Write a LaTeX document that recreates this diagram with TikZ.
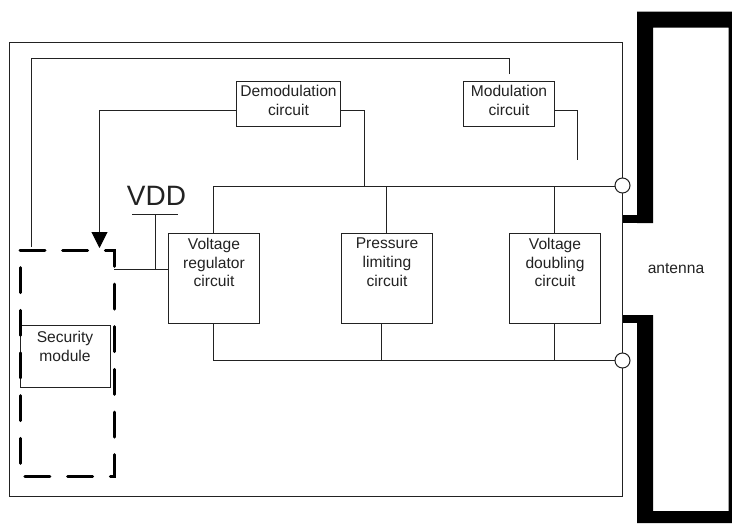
\documentclass[tikz,border=0pt]{standalone}
\usepackage{fontspec}
\setmainfont{Liberation Sans}
\usetikzlibrary{arrows.meta,positioning,calc}
\definecolor{ink}{HTML}{222222}
\tikzset{
  wire/.style={draw=ink,line width=1pt},
  boxshape/.style={draw=ink,line width=1pt,inner sep=0pt,outer sep=0pt,fill=white},
  lbl/.style={font=\fontsize{15.6}{18.6}\selectfont,align=center,text=ink,inner sep=0pt},
  terminal/.style={circle,draw=ink,line width=1pt,fill=white,minimum size=15pt,inner sep=0pt,outer sep=0pt},
  secure/.style={draw=black,line width=3pt,line cap=round,dash pattern=on 25pt off 17.67pt},
  antfill/.style={fill=black,draw=none}
}
\begin{document}
\begin{tikzpicture}[x=1pt,y=-1pt]
\useasboundingbox (0,0) rectangle (732,523);
\fill[white] (0,0) rectangle (732,523);
% board
\node[boxshape,fill=none,minimum width=613pt,minimum height=454pt] (board) at (316,269.5) {};
% antenna
\fill[antfill] (637,11.5)--(732,11.5)--(732,523)--(637,523)--(637,315)--(653,315)--(653,511)--(728.5,511)--(728.5,27.5)--(653,27.5)--(653,223)--(637,223)--cycle;
\fill[antfill] (board.east |- 0,215) rectangle (637,223);
\fill[antfill] (board.east |- 0,315) rectangle (637,322.7);
\node[lbl] (ant) at (676,269) {antenna};
% boxes
\node[boxshape,minimum width=104pt,minimum height=45pt] (demod) at (288.5,104) {};
\node[lbl,anchor=north] (demodt) at (288.5,85) {Demodulation\\circuit};
\node[boxshape,minimum width=91pt,minimum height=45pt] (mod) at (509,104) {};
\node[lbl,anchor=north] (modt) at (509,85) {Modulation\\circuit};
\node[boxshape,minimum width=91pt,minimum height=90pt] (vr) at (214,278.5) {};
\node[lbl,anchor=north] (vrt) at (214,238) {Voltage\\regulator\\circuit};
\node[boxshape,minimum width=91pt,minimum height=90pt] (pl) at (387,278.5) {};
\node[lbl,anchor=north] (plt) at (387,238) {Pressure\\limiting\\circuit};
\node[boxshape,minimum width=91pt,minimum height=90pt] (vd) at (555,278.5) {};
\node[lbl,anchor=north] (vdt) at (555,238) {Voltage\\doubling\\circuit};
\node[boxshape,minimum width=90pt,minimum height=62pt] (sec) at (65.5,356.5) {};
\node[lbl,anchor=north] (sect) at (65,331) {Security\\module};
% dashed security outline
\node[minimum width=94pt,minimum height=226pt,inner sep=0pt,outer sep=0pt] (dash) at (67,363) {};
\draw[secure] (dash.north west) -- (dash.north east) -- (dash.south east) -- (dash.south west) -- cycle;
% free ends and junctions
\coordinate (modup) at (509.5,74);
\coordinate (secup) at (31.5,247);
\coordinate (arrowend) at (99.5,248);
\coordinate (modfree) at (577.5,160);
\coordinate (vddbar) at (155.5,214.5);
\coordinate (vddl) at (132,214.5);
\coordinate (vddr) at (177.5,214.5);
\coordinate (vddj) at (155.5,269.5);
\coordinate (secr) at (114,269.5);
\coordinate (topj) at (364.5,186.5);
\node[terminal] (t1) at (622.5,185.5) {};
\node[terminal] (t2) at (622.5,360.5) {};
\coordinate (botj) at (213.5,360.5);
% connectors
\draw[wire] (modup) -- (modup |- 0,58.5) -- (secup |- 0,58.5) -- (secup);
\draw[wire,-{Triangle[length=16pt,width=16pt,color=black]}] (demod.west |- 0,110.5) -- (arrowend |- 0,110.5) -- (arrowend);
\draw[wire] (demod.east |- 0,110.5) -- (364.5,110.5) -- (topj);
\draw[wire] (mod.east |- 0,110.5) -- (577.5,110.5) -- (modfree);
\draw[wire] ([xshift=-.5pt]vr.north) -- (213.5,186.5) -- (t1.west |- 0,186.5);
\draw[wire] ([xshift=-.5pt]pl.north) -- ([xshift=-.5pt]pl.north |- topj);
\draw[wire] ([xshift=-.5pt]vd.north) -- ([xshift=-.5pt]vd.north |- topj);
\draw[wire] ([xshift=-.5pt]vr.south) -- (botj) -- (t2.west);
\draw[wire] ([xshift=-5.5pt]pl.south) -- ([xshift=-5.5pt]pl.south |- botj);
\draw[wire] ([xshift=-.5pt]vd.south) -- ([xshift=-.5pt]vd.south |- botj);
\draw[wire] (secr) -- (vr.west |- secr);
\draw[wire] (vddj) -- (vddbar);
\draw[wire] (vddl) -- (vddr);
\node[font=\fontsize{28}{30}\selectfont,text=ink,inner sep=0pt] (vdd) at (156.5,195.5) {VDD};
\end{tikzpicture}
\end{document}
